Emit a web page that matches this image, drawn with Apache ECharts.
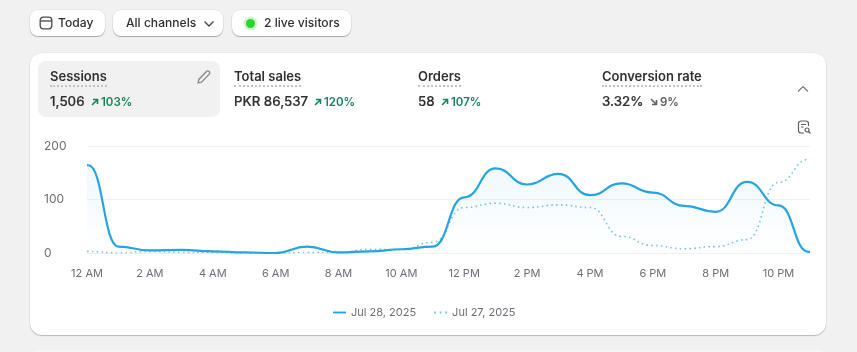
<!DOCTYPE html>
<html>
<head>
<meta charset="utf-8">
<script src="https://cdn.jsdelivr.net/npm/echarts@6/dist/echarts.min.js"></script>
<style>
  html, body { margin: 0; padding: 0; }
  body { width: 857px; height: 352px; overflow: hidden; background: #f1f1f1; position: relative;
         font-family: Inter, sans-serif; color: #303030; }
  .btn { position: absolute; top: 10px; height: 26px; box-sizing: border-box; background: #fff; border-radius: 8px;
         box-shadow: 0 1px 1px rgba(0,0,0,.28), 0 0 0 .5px rgba(0,0,0,.08); font-size: 12.1px; font-weight: 500; line-height: 26px; white-space: nowrap; }
  .btn span, .btn svg, .btn i { position: absolute; }
  #card { position: absolute; left: 30px; top: 53px; width: 796px; height: 282px; background: #fff; border-radius: 12px;
          box-shadow: 0 1px 1px rgba(0,0,0,.22), 0 0 0 .5px rgba(0,0,0,.06); }
  #nextCard { position: absolute; left: 30px; top: 350px; width: 796px; height: 20px; background: #f6f6f6; border-radius: 8px; }
  #tile { position: absolute; left: 38px; top: 61px; width: 182px; height: 56px; background: #f1f1f1; border-radius: 8px; }
  .metric { position: absolute; top: 68px; white-space: nowrap; }
  .metric .name { position: absolute; top: 0; left: 0; font-size: 13px; font-weight: 600; line-height: 16px; border-bottom: 2px dotted #c4c4c4; padding-bottom: 1px; }
  .metric .val { position: absolute; left: 0; top: 25px; font-size: 13.3px; font-weight: 500; line-height: 17px; -webkit-text-stroke: .2px #303030; }
  .metric .pct { position: absolute; top: 26px; font-size: 11.5px; font-weight: 600; line-height: 16px; color: #1a8458; }
  .metric .pct.down { color: #616161; }
  .metric svg { position: absolute; top: 30px; }
  #main { position: absolute; left: 0; top: 0; width: 857px; height: 352px; }
  .ico { position: absolute; }
</style>
</head>
<body>
<div id="card"></div>
<div id="nextCard"></div>
<div id="tile"></div>
<div id="main"></div>

<div class="btn" style="left:30px;width:75px">
  <svg style="left:9px;top:6px" width="14" height="14" viewBox="0 0 14 14" fill="none" stroke="#4a4a4a" stroke-width="1.3"><rect x="1.2" y="1.2" width="11.6" height="11.6" rx="3"/><path d="M1.2 5h11.6"/></svg>
  <span style="left:28px">Today</span>
</div>
<div class="btn" style="left:113px;width:110px">
  <span style="left:13px">All channels</span>
  <svg style="left:90px;top:10px" width="12" height="8" viewBox="0 0 12 8" fill="none" stroke="#4a4a4a" stroke-width="1.4"><path d="M1.5 1.5l4.5 4.5 4.5-4.5"/></svg>
</div>
<div class="btn" style="left:232px;width:119px">
  <i style="left:13.5px;top:8.5px;width:9px;height:9px;border-radius:50%;background:#2ad52a;box-shadow:0 0 0 2.5px #d2f5d2"></i>
  <span style="left:32px">2 live visitors</span>
</div>

<div class="metric" style="left:50px">
  <span class="name">Sessions</span><span class="val">1,506</span>
  <svg style="left:41px" width="8" height="8" viewBox="0 0 8 8" fill="none" stroke="#1a8458" stroke-width="1.6"><path d="M1 7l5-5M2 1.5h4.5V6"/></svg>
  <span class="pct" style="left:51px">103%</span>
</div>
<div class="metric" style="left:234px">
  <span class="name">Total sales</span><span class="val">PKR 86,537</span>
  <svg style="left:80px" width="8" height="8" viewBox="0 0 8 8" fill="none" stroke="#1a8458" stroke-width="1.6"><path d="M1 7l5-5M2 1.5h4.5V6"/></svg>
  <span class="pct" style="left:90px">120%</span>
</div>
<div class="metric" style="left:418px">
  <span class="name">Orders</span><span class="val">58</span>
  <svg style="left:23px" width="8" height="8" viewBox="0 0 8 8" fill="none" stroke="#1a8458" stroke-width="1.6"><path d="M1 7l5-5M2 1.5h4.5V6"/></svg>
  <span class="pct" style="left:33px">107%</span>
</div>
<div class="metric" style="left:602px">
  <span class="name">Conversion rate</span><span class="val">3.32%</span>
  <svg style="left:48px" width="8" height="8" viewBox="0 0 8 8" fill="none" stroke="#616161" stroke-width="1.6"><path d="M1 1l5 5M2 6.5h4.5V2"/></svg>
  <span class="pct down" style="left:58px">9%</span>
</div>

<svg class="ico" style="left:196px;top:69px" width="16" height="16" viewBox="0 0 15 15" fill="none" stroke="#8a8a8a" stroke-width="1.3"><path d="M2 13l.6-3.2L9.8 2.4a1.7 1.7 0 0 1 2.6 2.4L5.2 12.3z"/></svg>
<svg class="ico" style="left:797px;top:85px" width="12" height="8" viewBox="0 0 12 8" fill="none" stroke="#7a7a7a" stroke-width="1.2"><path d="M1 6.5l5-5 5 5"/></svg>
<svg class="ico" style="left:797px;top:120px" width="15" height="15" viewBox="0 0 15 15" fill="none" stroke="#5f5f5f" stroke-width="1.2"><path d="M7 13H4a2.5 2.5 0 0 1-2.5-2.5V3.5A2.5 2.5 0 0 1 4 1h5a2.5 2.5 0 0 1 2.5 2.5V6M4 4.5h5M4 7h2.5"/><circle cx="10" cy="10" r="2"/><path d="M11.5 11.5l2 2"/></svg>

<script>
const hours = [0, 1, 2, 3, 4, 5, 6, 7, 8, 9, 10, 11, 12, 13, 14, 15, 16, 17, 18, 19, 20, 21, 22, 23];
const jul28 = [164, 12, 5, 6, 3, 1, 0, 12, 1, 3, 7, 12, 104, 158, 128, 148, 108, 130, 113, 88, 77, 133, 89, 2];
const jul27 = [3, 0, 3, 1, 1, 0, 0, 1, 1, 7, 6, 20, 85, 93, 85, 90, 85, 31, 14, 8, 12, 25, 132, 175];
const xTickLabels = ['12 AM', '2 AM', '4 AM', '6 AM', '8 AM', '10 AM', '12 PM', '2 PM', '4 PM', '6 PM', '8 PM', '10 PM'];
const yTicks = [0, 100, 200];

// repeat first and last value just inside the ends so the smoothing flattens out there too
// (closer than about 1px and echarts drops the point)
function toPoints(values) {
  const points = hours.map((h, i) => [h, values[i]]);
  const last = points.length - 1;
  return [points[0], [0.04, values[0]], ...points.slice(1, last), [hours[last] - 0.04, values[last]], points[last]];
}

const myChart = echarts.init(document.getElementById('main'));

const option = {
  animation: false,
  backgroundColor: 'transparent',
  textStyle: { fontFamily: 'Inter, sans-serif' },
  grid: { left: 87, right: 47, top: 146, bottom: 99 },
  legend: {
    bottom: 34,
    left: 333,
    padding: 0,
    itemWidth: 13,
    itemHeight: 2,
    itemGap: 18,
    textStyle: { color: '#6d6d75', fontSize: 11 },
    data: [
      { name: 'Jul 28, 2025', icon: 'path://M0 0h14v2H0z', itemStyle: { color: '#22a5e0' } },
      { name: 'Jul 27, 2025', icon: 'path://M0 0h2v2H0zM6 0h2v2H6zM12 0h2v2h-2z', itemStyle: { color: '#7fc4e2' } }
    ]
  },
  xAxis: {
    type: 'value',
    min: 0,
    max: 23,
    interval: 2,
    splitLine: { show: false },
    axisTick: { show: false },
    axisLine: { show: true, lineStyle: { color: '#f1f1f1', width: 1 } },
    axisLabel: {
      color: '#6d6d75',
      fontSize: 11,
      margin: 15,
      formatter: function (value) {
        return xTickLabels[value / 2] || '';
      }
    }
  },
  yAxis: {
    type: 'value',
    min: yTicks[0],
    max: yTicks[2],
    interval: yTicks[1],
    axisLine: { show: false },
    axisTick: { show: false },
    splitLine: { lineStyle: { color: '#f1f1f1', width: 1 } },
    axisLabel: { color: '#6d6d75', fontSize: 12, margin: 43, align: 'left' }
  },
  series: [
    {
      name: 'Jul 28, 2025',
      type: 'line',
      data: toPoints(jul28),
      smooth: 0.5,
      smoothMonotone: 'x',
      symbol: 'none',
      lineStyle: { color: '#22a5e0', width: 2.2 },
      itemStyle: { color: '#22a5e0' },
      areaStyle: {
        color: new echarts.graphic.LinearGradient(0, 0, 0, 1, [
          { offset: 0, color: 'rgba(34,165,224,0.10)' },
          { offset: 1, color: 'rgba(34,165,224,0.00)' }
        ])
      },
      z: 3
    },
    {
      name: 'Jul 27, 2025',
      type: 'line',
      data: toPoints(jul27),
      smooth: 0.5,
      smoothMonotone: 'x',
      symbol: 'none',
      lineStyle: { color: '#7fc4e2', width: 1.6, type: [1.6, 3.2] },
      itemStyle: { color: '#7fc4e2' },
      z: 2
    }
  ]
};

myChart.setOption(option);
</script>
</body>
</html>
